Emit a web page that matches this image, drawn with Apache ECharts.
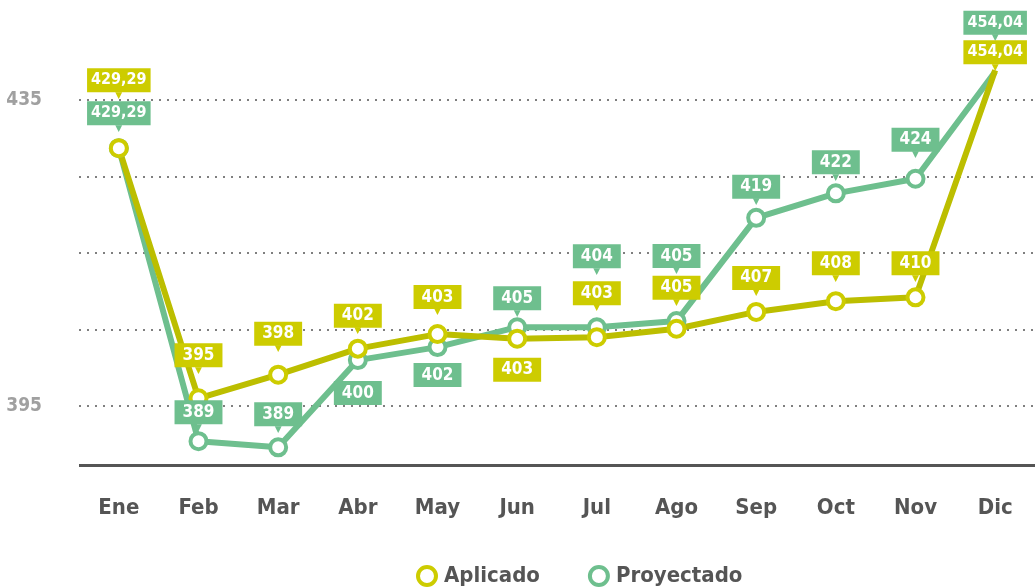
<!DOCTYPE html>
<html>
<head>
<meta charset="utf-8">
<script src="https://cdn.jsdelivr.net/npm/echarts@6/dist/echarts.min.js"></script>
<style>
  html, body { margin: 0; padding: 0; background: #fff; }
  #chart { width: 1036px; height: 588px; }
</style>
</head>
<body>
<div id="chart"></div>
<script>
// datos
const meses = ['Ene', 'Feb', 'Mar', 'Abr', 'May', 'Jun', 'Jul', 'Ago', 'Sep', 'Oct', 'Nov', 'Dic'];
// posicion de cada punto leida sobre el eje del grafico
const aplicado = [428.7, 396.0, 399.1, 402.5, 404.4, 403.8, 404.0, 405.1, 407.3, 408.7, 409.2, 438.9];
const proyectado = [428.7, 390.4, 389.6, 401.0, 402.7, 405.3, 405.3, 406.1, 419.6, 422.8, 424.7, 438.7];
// valores impresos en las etiquetas
const aplicadoTexto = ['429,29', '395', '398', '402', '403', '403', '403', '405', '407', '408', '410', '454,04'];
const proyectadoTexto = ['429,29', '389', '389', '400', '402', '405', '404', '405', '419', '422', '424', '454,04'];
const yEtiquetas = [395, 435];
const lineaBase = 387.3;

// desplazamiento vertical de cada etiqueta (negativo = arriba)
const despAplicado = [-68, -43, -41, -33, -37, 31, -44, -41, -34, -38, -34, -18];
const despProyectado = [-35, -29, -33, 33, 28, -29, -71, -65, -31, -31, -39, -49];

const AMARILLO = '#cdcc00';
const AMARILLO_LINEA = '#bcbe00';
const VERDE = '#6ebf8e';
const FUENTE = "'Liberation Sans Narrow', 'DejaVu Sans Condensed', sans-serif";

function armarDatos(vals, textos, desp) {
  return vals.map(function (v, i) {
    const abajo = desp[i] > 0;
    const estilo = textos[i].length > 3 ? 'w' : 'b';
    const caja = '{' + estilo + '|' + textos[i] + '}';
    return {
      value: v,
      symbolSize: i === vals.length - 1 ? 0 : 16,
      label: {
        offset: [0, abajo ? desp[i] : desp[i] + 3],
        formatter: abajo ? caja : caja + '\n{t|▼}'
      }
    };
  });
}

function etiqueta(color) {
  const caja = {
    backgroundColor: color,
    color: '#fff',
    height: 24,
    lineHeight: 24,
    align: 'center',
    fontWeight: 'bold',
    fontFamily: FUENTE
  };
  return {
    show: true,
    position: 'inside',
    rich: {
      b: Object.assign({}, caja, { fontSize: 17, padding: [0, 8] }),
      w: Object.assign({}, caja, { fontSize: 16, padding: [0, 4] }),
      t: {
        color: color,
        fontSize: 9,
        lineHeight: 6,
        height: 6,
        align: 'center',
        fontFamily: 'DejaVu Sans'
      }
    }
  };
}

const chart = echarts.init(document.getElementById('chart'));
chart.setOption({
  backgroundColor: '#ffffff',
  animation: false,
  grid: { left: 79, right: 1, top: 23.5, bottom: 105.5 },
  legend: {
    left: 411,
    top: 560,
    icon: 'circle',
    itemWidth: 18,
    itemHeight: 18,
    itemGap: 48,
    textStyle: { color: '#555', fontSize: 22, fontWeight: 'bold', fontFamily: FUENTE, padding: [0, 0, 0, 3] },
    data: [
      { name: 'Aplicado', itemStyle: { color: '#fff', borderColor: AMARILLO, borderWidth: 4 } },
      { name: 'Proyectado', itemStyle: { color: '#fff', borderColor: VERDE, borderWidth: 4 } }
    ]
  },
  xAxis: {
    type: 'category',
    data: meses,
    boundaryGap: true,
    axisLine: { show: false },
    axisTick: { show: false },
    axisLabel: { color: '#555', fontSize: 22, fontWeight: 'bold', fontFamily: FUENTE, margin: 15 }
  },
  yAxis: {
    type: 'value',
    min: 385,
    max: 445,
    interval: 10,
    axisLine: { show: false },
    axisTick: { show: false },
    axisLabel: {
      color: '#a0a0a0', fontSize: 19, fontWeight: 'bold', fontFamily: FUENTE, margin: 37,
      formatter: function (v) { return yEtiquetas.indexOf(v) >= 0 ? String(v) : ''; }
    },
    splitLine: {
      show: true,
      showMinLine: false,
      showMaxLine: false,
      lineStyle: { color: '#555', width: 1.5, type: [2, 6] }
    }
  },
  series: [
    {
      name: 'Proyectado',
      type: 'line',
      data: armarDatos(proyectado, proyectadoTexto, despProyectado),
      symbol: 'circle',
      color: VERDE,
      lineStyle: { color: VERDE, width: 6 },
      itemStyle: { color: '#fff', borderColor: VERDE, borderWidth: 4 },
      label: etiqueta(VERDE),
      emphasis: { disabled: true },
      markLine: {
        silent: true,
        symbol: 'none',
        label: { show: false },
        lineStyle: { color: '#555', type: 'solid', width: 3 },
        data: [{ yAxis: lineaBase }]
      }
    },
    {
      name: 'Aplicado',
      type: 'line',
      data: armarDatos(aplicado, aplicadoTexto, despAplicado),
      symbol: 'circle',
      color: AMARILLO,
      lineStyle: { color: AMARILLO_LINEA, width: 6 },
      itemStyle: { color: '#fff', borderColor: AMARILLO, borderWidth: 4 },
      label: etiqueta(AMARILLO),
      emphasis: { disabled: true }
    }
  ]
});
</script>
</body>
</html>
